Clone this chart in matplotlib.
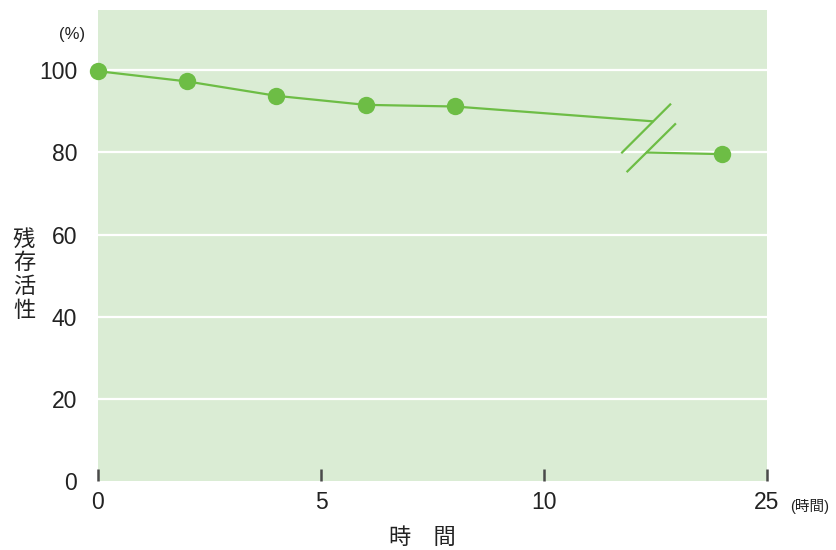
import matplotlib
matplotlib.use("Agg")
import matplotlib.pyplot as plt

plt.rcParams['font.family'] = ['Liberation Sans', 'Noto Sans CJK JP', 'DejaVu Sans']

# Data
hours = [0, 2, 4, 6, 8, 24]
activity = [99.8, 97.3, 93.8, 91.6, 91.2, 79.6]
x_ticks_hours = [0, 5, 10, 25]
x_tick_labels = ["0", "5", "10", "25"]
y_ticks = [0, 20, 40, 60, 80, 100]
y_label_chars = ["残", "存", "活", "性"]

def pos(h):
    # broken axis: hours after 10 are shifted by 10
    return h if h <= 10 else h - 10

xs = [pos(h) for h in hours]

green = "#6dbd45"
bg = "#daecd4"
txt = "#222222"

fig = plt.figure(figsize=(8.37, 5.5), dpi=100)
ax = fig.add_axes([98/837, 69/550, (767-98)/837, (481-10)/550])
ax.set_facecolor(bg)
ax.set_xlim(0, 15)
ax.set_ylim(0, 114.7)

for y in y_ticks[1:]:
    ax.axhline(y, color="white", lw=1.6, zorder=1)

# Line segments with axis break
bx_up, by_up = 12.43, 87.6
bx_lo, by_lo = 12.31, 80.0
ax.plot(xs[:5] + [bx_up], activity[:5] + [by_up], color=green, lw=1.6, zorder=3, clip_on=False)
ax.plot([bx_lo, xs[5]], [by_lo, activity[5]], color=green, lw=1.6, zorder=3, clip_on=False)
# break marks
ax.plot([11.75, 12.83], [80.0, 91.7], color=green, lw=1.6, zorder=3)
ax.plot([11.87, 12.94], [75.4, 86.9], color=green, lw=1.6, zorder=3)

ax.plot(xs, activity, linestyle="none", marker="o", ms=12.5, color=green,
        markeredgewidth=0, zorder=4, clip_on=False)

for s in ax.spines.values():
    s.set_visible(False)

ax.set_xticks([pos(h) for h in x_ticks_hours])
ax.set_xticklabels(x_tick_labels)
ax.set_yticks(y_ticks)
ax.set_yticklabels([str(v) for v in y_ticks])
ax.tick_params(axis="x", direction="in", length=8.5, width=1.8, color="#4a4a4a",
               labelsize=16.5, labelcolor=txt, pad=7)
ax.tick_params(axis="y", length=0, labelsize=16.5, labelcolor=txt, pad=15)

fig.text(72/837, 1-35/550, "(%)", fontsize=12, color=txt, ha="center", va="center")
fig.text(810/837, 1-507/550, "(時間)", fontsize=10.5, color=txt, ha="center", va="center")
fig.text(422/837, 1-538/550, "時　間", fontsize=16, color=txt, ha="center", va="center")
for i, ch in enumerate(y_label_chars):
    fig.text(24/837, 1-(240 + i*23.7)/550, ch, fontsize=16, color=txt,
             ha="center", va="center")

fig.savefig("out.png", dpi=100)
